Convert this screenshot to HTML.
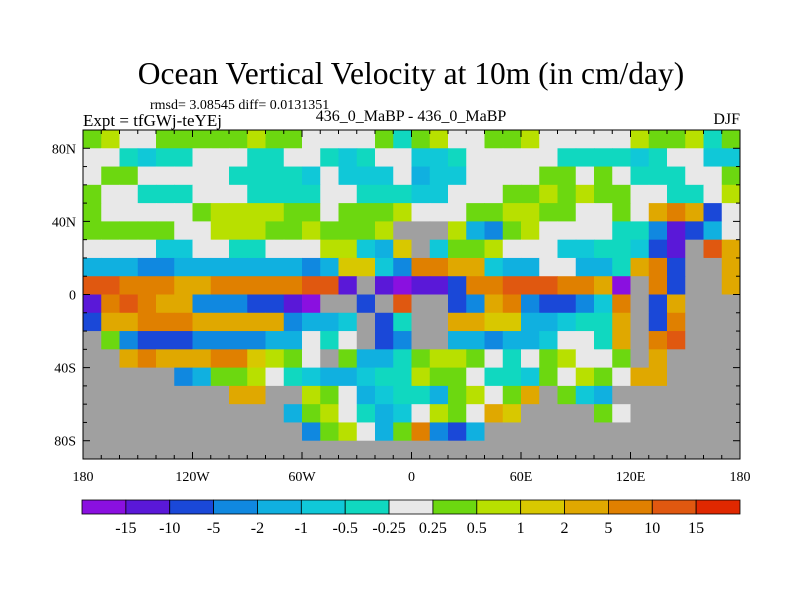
<!DOCTYPE html>
<html><head><meta charset="utf-8"><style>
body{margin:0;background:#fff;width:800px;height:600px;overflow:hidden}
text{font-family:"Liberation Serif",serif;fill:#000}
</style></head><body>
<svg id="s" width="800" height="600" viewBox="0 0 800 600">
<text x="411" y="84" font-size="31.5" text-anchor="middle">Ocean Vertical Velocity at 10m (in cm/day)</text>
<text x="150" y="109" font-size="14">rmsd= 3.08545 diff= 0.0131351</text>
<text x="83" y="126" font-size="17">Expt = tfGWj-teYEj</text>
<text x="411" y="121" font-size="16" text-anchor="middle">436_0_MaBP - 436_0_MaBP</text>
<text x="740" y="124" font-size="16" text-anchor="end">DJF</text>
<g id="map"></g>
<g id="axes"></g>
<g id="cbar"></g>
</svg>
<script>
const levelLabels=["-15","-10","-5","-2","-1","-0.5","-0.25","0.25","0.5","1","2","5","10","15"];
const levelColors=["#8a10e0","#5a18d8","#1a48d8","#1088e0","#10b0e0","#10c8d8","#10d8c0","#e8e8e8","#6cd810","#b8e000","#d8c800","#e0a800","#e08000","#e05810","#e02800"];
const lonTicks=[-180,-120,-60,0,60,120,180];
const lonLabels=["180","120W","60W","0","60E","120E","180"];
const latTicks=[80,40,0,-40,-80];
const latLabels=["80N","40N","0","40S","80S"];
// rows: 90N->90S in 10deg bands, cols 180W->180E in 10deg; A..O = level index, # = land
const fieldWest=["IJHHIIIIIJIIHHHHIG","HHGFGGHHHGGHHGFGHH","HIIHHHHHGGGGFHFFFH","IHHGGGHHHGGGGHHGGG","IHHHHHIJJJJIIHIIIJ","IIIIIHHJJJIIJIIIJ#","HHHHFFHHGGHHHJJFEK","EEEDDEEEEEEEDEKKFD","NNMMMLLMMMMMNNB#BA","BMNMLLDDDCCBA##C#N","CLLMMMLLLLLDEEF#CG","#IDCCCDDDDEEHGH#CD","##LMLLLMMKJIH#IEEG","#####DEIIJHGFEEFGG","########LL##JIHEFG","###########EIJHGEF","############DIJHEI","##################"];
const fieldEast=["IJHHIIJHHHHHJIIJGI","FFGHHHHHGGGGFGHHFF","EFFHHHHIIHIHGGGHHI","FFHHHIIJIJIIHHGGHJ","HHHIIJJIIHHIHLMLCH","##JEDIJHHHHGGDBCEH","#FIIJHHHFFGGFCB#NL","MMLLFEEHHEEGLMC##L","BBCMMNNNMMLA#MC##L","##CDLMDCCDFM#CL###","##LLKKEEFGGL#CM###","##EEDEEFHHGL#MN###","IJJIHGHIJHHI#L####","JIIHGGFIHJIHLL####","GEIJHIL#IFE#######","HJIHLK####IH######","MDCE##############","##################"];
const NS="http://www.w3.org/2000/svg";
const X0=83,X1=740,Y0=130,Y1=459;
const xs=lon=>X0+(lon+180)/360*(X1-X0);
const ys=lat=>Y0+(90-lat)/180*(Y1-Y0);
function mk(t,a,p){const e=document.createElementNS(NS,t);for(const k in a)e.setAttribute(k,a[k]);p.appendChild(e);return e;}
const map=document.getElementById('map');
mk('rect',{x:X0,y:Y0,width:X1-X0,height:Y1-Y0,fill:'#e8e8e8'},map);
for(let r=0;r<18;r++){const row=fieldWest[r]+fieldEast[r];
 for(let c=0;c<36;c++){const ch=row[c];
  const col=ch==='#'?'#a0a0a0':levelColors[ch.charCodeAt(0)-65];
  const lon=-180+c*10,lat=90-r*10;
  const x=xs(lon),y=ys(lat);
  const e=mk('rect',{x:x,y:y,width:xs(lon+10)-x+0.5,height:ys(lat-10)-y+0.5,fill:col},map);
  
  
 }}
const ax=document.getElementById('axes');
mk('rect',{x:X0,y:Y0,width:X1-X0,height:Y1-Y0,fill:'none',stroke:'#000','stroke-width':1},ax);
for(let lon=-180;lon<=180;lon+=10){const x=xs(lon),L=lon%60===0?7:4;
 mk('line',{x1:x,x2:x,y1:Y1,y2:Y1-L,stroke:'#000'},ax);mk('line',{x1:x,x2:x,y1:Y0,y2:Y0+L,stroke:'#000'},ax);}
for(let lat=-90;lat<=90;lat+=10){const y=ys(lat),L=lat%40===0?7:4;
 mk('line',{x1:X0,x2:X0+L,y1:y,y2:y,stroke:'#000'},ax);mk('line',{x1:X1,x2:X1-L,y1:y,y2:y,stroke:'#000'},ax);}
lonTicks.forEach((v,i)=>{const t=mk('text',{x:xs(v),y:481,'font-size':14,'text-anchor':'middle'},ax);t.textContent=lonLabels[i];
 
 });
latTicks.forEach((v,i)=>{const t=mk('text',{x:76,y:ys(v)+5,'font-size':14,'text-anchor':'end'},ax);t.textContent=latLabels[i];
 
 });
const cb=document.getElementById('cbar');
const CX0=82,CX1=740,CY=500,CH=14,bw=(CX1-CX0)/levelColors.length;
levelColors.forEach((c,i)=>{const e=mk('rect',{x:CX0+i*bw,y:CY,width:bw,height:CH,fill:c,stroke:'#000','stroke-width':0.8},cb);
 
 });
levelLabels.forEach((l,i)=>{const t=mk('text',{x:CX0+(i+1)*bw,y:533,'font-size':16,'text-anchor':'middle'},cb);t.textContent=l;
 
 });
</script>
</body></html>
